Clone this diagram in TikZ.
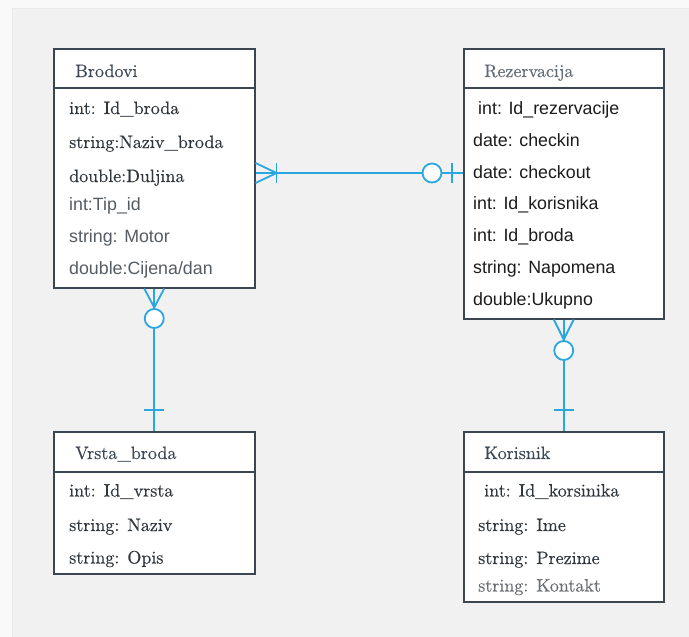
\documentclass[tikz,border=0pt]{standalone}
\usepackage{fontspec}
\newfontfamily\sansfam{Liberation Sans}
\newfontfamily\serfam{lmroman10-regular}[Extension=.otf, FakeBold=0.35]
\usetikzlibrary{calc}
\definecolor{relblue}{HTML}{2AA7DF}
\definecolor{boxline}{HTML}{3B4653}
\definecolor{titlegray}{HTML}{3C4855}
\definecolor{attrgray}{HTML}{2F363E}
\definecolor{sansgray}{HTML}{565C63}
\definecolor{sansdark}{HTML}{1C1C1C}
\definecolor{bggray}{HTML}{F1F1F1}
\tikzset{
	entity/.style={draw=boxline, line width=1.5pt, fill=white, inner sep=0pt, anchor=north west},
	headline/.style={draw=boxline, line width=1.5pt},
	title/.style={anchor=base west, inner sep=0pt, text=titlegray, font=\serfam\fontsize{18}{21}\selectfont},
	attr/.style={anchor=base west, inner sep=0pt, text=attrgray, font=\serfam\fontsize{18}{21}\selectfont},
	sattr/.style={anchor=base west, inner sep=0pt, text=sansgray, font=\sansfam\fontsize{17.8}{21}\selectfont},
	rel/.style={draw=relblue, line width=1.8pt},
}

\begin{document}
\begin{tikzpicture}[x=1pt, y=-1pt]
			%%%%% START %%%%%
			\useasboundingbox (0,0) rectangle (689,637);
			\fill[white!55!bggray] (0,0) rectangle (689,637);
			\fill[bggray] (12,8) rectangle (689,637);
			\draw[black!8, line width=1pt] (12.5,637) -- (12.5,8.5) -- (689,8.5);
			
			% entities
			\node[entity, minimum width=201pt, minimum height=239pt] (brodovi) at (53,48) {};
			\node[entity, minimum width=200pt, minimum height=270pt] (rezervacija) at (463,48) {};
			\node[entity, minimum width=201pt, minimum height=142pt] (vrsta) at (53,431) {};
			\node[entity, minimum width=200pt, minimum height=170pt] (korisnik) at (463,431) {};
			
			\draw[headline] (brodovi.west |- 0,88) -- (brodovi.east |- 0,88);
			\draw[headline] (rezervacija.west |- 0,88) -- (rezervacija.east |- 0,88);
			\draw[headline] (vrsta.west |- 0,472) -- (vrsta.east |- 0,472);
			\draw[headline] (korisnik.west |- 0,472) -- (korisnik.east |- 0,472);
			
			% Brodovi
			\node[title] (bt) at (75,77) {Brodovi};
			\node[attr] (b1) at (69,114) {int: Id\_broda};
			\node[attr] (b2) at (69,148) {string:Naziv\_broda};
			\node[attr] (b3) at (69,182) {double:Duljina};
			\node[sattr] (b4) at (69,210) {int:Tip\_id};
			\node[sattr] (b5) at (69,242) {string: Motor};
			\node[sattr] (b6) at (69,274) {double:Cijena/dan};
			
			% Rezervacija
			\node[title, text=titlegray!80] (rt) at (484,77) {Rezervacija};
			\node[sattr, text=sansdark] (r1) at (478,114) {int: Id\_rezervacije};
			\node[sattr, text=sansdark] (r2) at (473,146) {date: checkin};
			\node[sattr, text=sansdark] (r3) at (473,178) {date: checkout};
			\node[sattr, text=sansdark] (r4) at (473,209) {int: Id\_korisnika};
			\node[sattr, text=sansdark] (r5) at (473,241.5) {int: Id\_broda};
			\node[sattr, text=sansdark] (r6) at (473,273) {string: Napomena};
			\node[sattr, text=sansdark] (r7) at (473,305.5) {double:Ukupno};
			
			% Vrsta_broda
			\node[title] (vt) at (75,459) {Vrsta\_broda};
			\node[attr] (v1) at (69,496.5) {int: Id\_vrsta};
			\node[attr] (v2) at (69,531) {string: Naziv};
			\node[attr] (v3) at (69,563.5) {string: Opis};
			
			% Korisnik
			\node[title] (kt) at (484,459) {Korisnik};
			\node[attr] (k1) at (484,496.5) {int: Id\_korsinika};
			\node[attr] (k2) at (478,531) {string: Ime};
			\node[attr] (k3) at (478,564) {string: Prezime};
			\node[attr, text=attrgray!72] (k4) at (478,591.5) {string: Kontakt};
			
			% Brodovi -- Rezervacija
			\coordinate (br) at (brodovi.east |- 0,173);
			\coordinate (rb) at (rezervacija.west |- 0,173);
			\draw[rel] (br) -- (rb);
			\draw[rel] ($(br)+(0,-10)$) -- ($(br)+(21,0)$) -- ($(br)+(0,10)$);
			\draw[rel] ($(br)+(21,-10)$) -- ($(br)+(21,10)$);
			\draw[rel, fill=white] ($(rb)+(-31,0)$) circle (9.5pt);
			\draw[rel] ($(rb)+(-11,-10)$) -- ($(rb)+(-11,10)$);
			
			% Brodovi -- Vrsta_broda
			\draw[rel] (brodovi.south) -- (vrsta.north);
			\draw[rel] ($(brodovi.south)+(-10,0)$) -- ($(brodovi.south)+(0,19)$) -- ($(brodovi.south)+(10,0)$);
			\draw[rel, fill=white] ($(brodovi.south)+(0,30)$) circle (9.5pt);
			\draw[rel] ($(vrsta.north)+(-10,-21)$) -- ($(vrsta.north)+(10,-21)$);
			
			% Rezervacija -- Korisnik
			\draw[rel] (rezervacija.south) -- (korisnik.north);
			\draw[rel] ($(rezervacija.south)+(-10,0)$) -- ($(rezervacija.south)+(0,20)$) -- ($(rezervacija.south)+(10,0)$);
			\draw[rel, fill=white] ($(rezervacija.south)+(0,31)$) circle (9.5pt);
			\draw[rel] ($(korisnik.north)+(-10,-21)$) -- ($(korisnik.north)+(10,-21)$);
			
			%%%%% END %%%%%
\end{tikzpicture}
\end{document}
